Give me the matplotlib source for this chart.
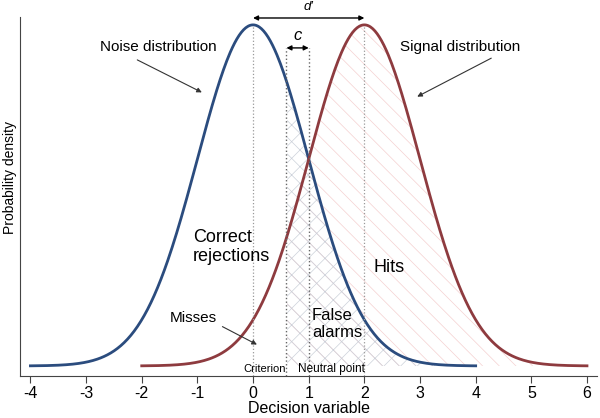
import numpy as np
import matplotlib.pyplot as plt
import matplotlib as mpl

# model parameters
noise_mean = 0.0
signal_mean = 2.0
criterion = 0.6
neutral = 1.0
noise_range = [-4, 4]
signal_range = [-2, 6]
xticks = [-4, -3, -2, -1, 0, 1, 2, 3, 4, 5, 6]

noise_col = "#2b4c7e"
signal_col = "#8e3b3f"


def pdf(x, mu):
    return np.exp(-0.5 * (x - mu) ** 2) / np.sqrt(2 * np.pi)


def draw():
    mpl.rcParams["font.family"] = ["Liberation Sans", "DejaVu Sans"]
    mpl.rcParams["hatch.linewidth"] = 0.5

    fig = plt.figure(figsize=(6, 4.18), dpi=100)
    ax = fig.add_axes([0.034, 0.10, 0.961, 0.859])

    xn = np.linspace(noise_range[0], noise_range[1], 400)
    xs = np.linspace(signal_range[0], signal_range[1], 400)
    yn = pdf(xn, noise_mean)
    ys = pdf(xs, signal_mean)

    # hatched areas right of the criterion
    m = xs >= criterion
    ax.fill_between(xs[m], 0, ys[m], facecolor="none", edgecolor="#f5d0d0",
                    hatch="\\\\", linewidth=0)
    m = xn >= criterion
    ax.fill_between(xn[m], 0, yn[m], facecolor="none", edgecolor="#ccd1da",
                    hatch="xx", linewidth=0)

    ax.plot(xn, yn, color=noise_col, lw=2)
    ax.plot(xs, ys, color=signal_col, lw=2)

    # vertical guides
    ax.plot([noise_mean, noise_mean], [-0.012, pdf(noise_mean, noise_mean)], ls=":",
            color="#999999", lw=0.9)
    ax.plot([signal_mean, signal_mean], [-0.012, pdf(signal_mean, signal_mean)], ls=":",
            color="#999999", lw=0.9)
    for xv in [criterion, neutral]:
        ax.plot([xv, xv], [-0.012, 0.372], ls=":", color="#666666", lw=1)

    # d' and c arrows
    ax.annotate("", xy=(noise_mean, 0.407), xytext=(signal_mean, 0.407),
                arrowprops=dict(arrowstyle="<|-|>", color="black", lw=1,
                                mutation_scale=7, shrinkA=0, shrinkB=0),
                annotation_clip=False)
    ax.text((noise_mean + signal_mean) / 2, 0.4195, "d\u2032", style="italic",
            ha="center", va="center", fontsize=9.5, clip_on=False)
    ax.annotate("", xy=(criterion, 0.372), xytext=(neutral, 0.372),
                arrowprops=dict(arrowstyle="<|-|>", color="black", lw=1,
                                mutation_scale=7, shrinkA=0, shrinkB=0))
    ax.text((criterion + neutral) / 2, 0.378, "c", style="italic",
            ha="center", va="bottom", fontsize=12)

    # labels
    ax.text(-1.7, 0.373, "Noise distribution", ha="center", va="center", fontsize=11)
    ax.annotate("", xy=(-0.92, 0.32), xytext=(-2.08, 0.358),
                arrowprops=dict(arrowstyle="-|>", color="#333333", lw=0.8,
                                mutation_scale=7, shrinkA=0, shrinkB=0))
    ax.text(3.72, 0.373, "Signal distribution", ha="center", va="center", fontsize=11)
    ax.annotate("", xy=(2.95, 0.315), xytext=(4.28, 0.360),
                arrowprops=dict(arrowstyle="-|>", color="#333333", lw=0.8,
                                mutation_scale=7, shrinkA=0, shrinkB=0))
    ax.text(-1.08, 0.139, "Correct\nrejections", ha="left", va="center",
            fontsize=13, linespacing=1.1)
    ax.text(2.45, 0.115, "Hits", ha="center", va="center", fontsize=13)
    ax.text(1.06, 0.049, "False\nalarms", ha="left", va="center",
            fontsize=12, linespacing=1.1)
    ax.text(-1.08, 0.056, "Misses", ha="center", va="center", fontsize=11)
    ax.annotate("", xy=(0.07, 0.025), xytext=(-0.55, 0.046),
                arrowprops=dict(arrowstyle="-|>", color="#333333", lw=0.8,
                                mutation_scale=7, shrinkA=0, shrinkB=0))
    ax.text(0.2, -0.004, "Criterion", ha="center", va="center", fontsize=8)
    ax.text(1.40, -0.004, "Neutral point", ha="center", va="center", fontsize=8.5)

    ax.set_xlim(-4.18, 6.18)
    ax.set_ylim(-0.012, 0.408)
    ax.set_xticks(xticks)
    ax.set_xticklabels([str(t) for t in xticks], fontsize=11.5)
    ax.set_yticks([])
    ax.set_xlabel("Decision variable", fontsize=11.5, labelpad=0)
    ax.set_ylabel("Probability density", fontsize=10)
    ax.yaxis.set_label_coords(-0.006, 0.554)
    ax.spines["top"].set_visible(False)
    ax.spines["right"].set_visible(False)
    ax.spines["left"].set_color("#444444")
    ax.spines["bottom"].set_color("#444444")
    ax.tick_params(axis="x", length=5, color="#444444", pad=2)

    fig.savefig("out.png", dpi=100)


if __name__ == "__main__":
    draw()
